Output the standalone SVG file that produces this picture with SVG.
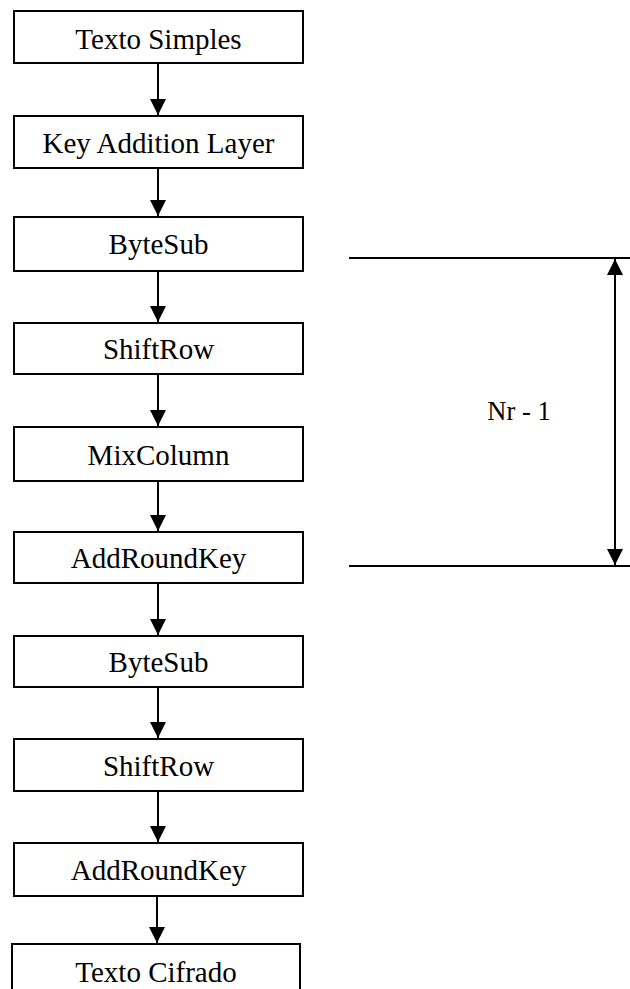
<svg xmlns="http://www.w3.org/2000/svg" width="630" height="989" viewBox="0 0 630 989">
  <style>
    .box { fill: #fff; stroke: #000; stroke-width: 2; }
    .lbl { font-family: "Liberation Serif", "Times New Roman", serif; font-size: 29px; fill: #000; text-anchor: middle; }
    .edge { stroke: #000; stroke-width: 2; fill: none; }
  </style>
  <defs>
    <marker id="arrow" viewBox="0 0 16 16" refX="16" refY="8" markerWidth="16" markerHeight="16" markerUnits="userSpaceOnUse" orient="auto">
      <path d="M0,0 L16,8 L0,16 Z" fill="#000"/>
    </marker>
    <marker id="arrowStart" viewBox="0 0 16 16" refX="0" refY="8" markerWidth="16" markerHeight="16" markerUnits="userSpaceOnUse" orient="auto">
      <path d="M16,0 L0,8 L16,16 Z" fill="#000"/>
    </marker>
  </defs>

  <g id="connectors">
    <line class="edge" x1="158" y1="63" x2="158" y2="115" marker-end="url(#arrow)"/>
    <line class="edge" x1="158" y1="168" x2="158" y2="216" marker-end="url(#arrow)"/>
    <line class="edge" x1="158" y1="271" x2="158" y2="322" marker-end="url(#arrow)"/>
    <line class="edge" x1="158" y1="374" x2="158" y2="426" marker-end="url(#arrow)"/>
    <line class="edge" x1="158" y1="481" x2="158" y2="531" marker-end="url(#arrow)"/>
    <line class="edge" x1="158" y1="583" x2="158" y2="635" marker-end="url(#arrow)"/>
    <line class="edge" x1="158" y1="687" x2="158" y2="738" marker-end="url(#arrow)"/>
    <line class="edge" x1="158" y1="791" x2="158" y2="842" marker-end="url(#arrow)"/>
    <line class="edge" x1="157" y1="896" x2="157" y2="943" marker-end="url(#arrow)"/>
  </g>

  <g id="n1"><rect class="box" x="14" y="11" width="289" height="52"/><text class="lbl" x="158.5" y="49">Texto Simples</text></g>
  <g id="n2"><rect class="box" x="14" y="116" width="289" height="52"/><text class="lbl" x="158.5" y="153">Key Addition Layer</text></g>
  <g id="n3"><rect class="box" x="14" y="217" width="289" height="54"/><text class="lbl" x="158.5" y="254">ByteSub</text></g>
  <g id="n4"><rect class="box" x="14" y="323" width="289" height="51"/><text class="lbl" x="158.5" y="359">ShiftRow</text></g>
  <g id="n5"><rect class="box" x="14" y="427" width="289" height="54"/><text class="lbl" x="158.5" y="465">MixColumn</text></g>
  <g id="n6"><rect class="box" x="14" y="532" width="289" height="51"/><text class="lbl" x="158.5" y="568">AddRoundKey</text></g>
  <g id="n7"><rect class="box" x="14" y="636" width="289" height="51"/><text class="lbl" x="158.5" y="672">ByteSub</text></g>
  <g id="n8"><rect class="box" x="14" y="739" width="289" height="52"/><text class="lbl" x="158.5" y="776">ShiftRow</text></g>
  <g id="n9"><rect class="box" x="14" y="843" width="289" height="53"/><text class="lbl" x="158.5" y="880">AddRoundKey</text></g>
  <g id="n10"><rect class="box" x="12" y="944" width="288" height="54"/><text class="lbl" x="156" y="982">Texto Cifrado</text></g>

  <g id="round-span">
    <line class="edge" x1="349" y1="258" x2="630" y2="258"/>
    <line class="edge" x1="349" y1="566" x2="630" y2="566"/>
    <line class="edge" x1="615" y1="259" x2="615" y2="565" marker-start="url(#arrowStart)" marker-end="url(#arrow)"/>
    <text x="519" y="420" style="font-family: 'Liberation Serif', 'Times New Roman', serif; font-size: 26.5px; text-anchor: middle;">Nr - 1</text>
  </g>
</svg>
